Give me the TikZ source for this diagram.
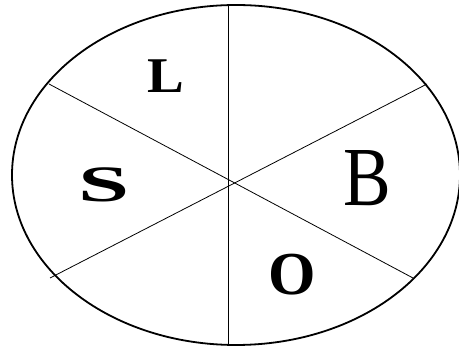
\documentclass[tikz,border=0pt]{standalone}
\usepackage{fontspec}
\setmainfont{Liberation Serif}
\usetikzlibrary{shapes.geometric}
\begin{document}
\begin{tikzpicture}[x=1pt,y=-1pt,
  rim/.style={line width=1.8pt},
  spoke/.style={line width=0.8pt},
  letter/.style={inner sep=0pt,anchor=center}]
\useasboundingbox (0,0) rectangle (459,347);
\node[ellipse,draw,rim,minimum width=448pt,minimum height=340pt,inner sep=0pt] (e) at (236,175) {};
\coordinate (t) at (228,5);
\coordinate (b) at (228,345);
\coordinate (ul) at (49,84);
\coordinate (lr) at (413,278);
\coordinate (ur) at (427,84);
\coordinate (ll) at (50,278);
\draw[spoke] (t) -- (b);
\draw[spoke] (ul) -- (lr);
\draw[spoke] (ur) -- (ll);
\node[letter,font=\fontsize{50}{50}\selectfont\bfseries] (L) at (166,76) {\scalebox{1.1}[1]{L}};
\node[letter,font=\fontsize{51}{51}\selectfont\bfseries] (S) at (104,185) {\scalebox{1.8}[1]{S}};
\node[letter,font=\fontsize{84}{84}\selectfont] (B) at (367,178) {\scalebox{0.85}[1]{B}};
\node[letter,font=\fontsize{61}{61}\selectfont\bfseries] (O) at (292,275) {O};
\end{tikzpicture}
\end{document}
